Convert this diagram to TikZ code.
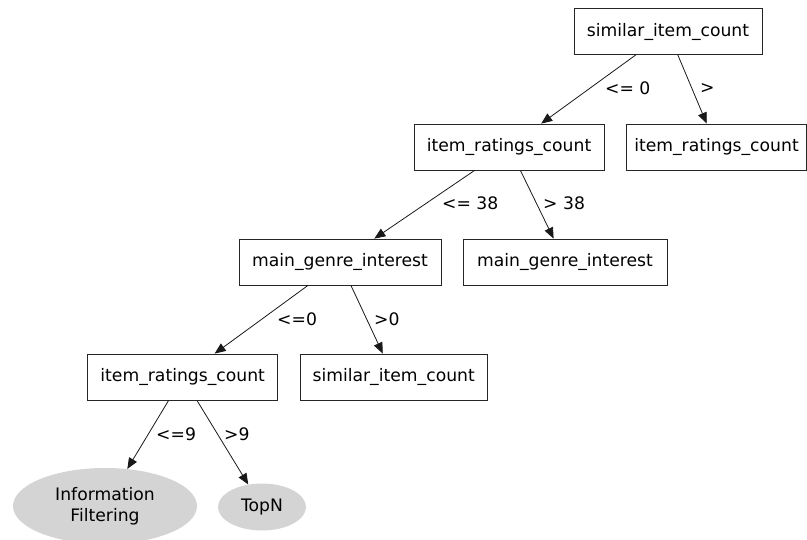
\documentclass[tikz,border=0pt]{standalone}
\usepackage{fontspec}
\setmainfont{DejaVu Sans}
\usetikzlibrary{arrows.meta,shapes.geometric}
\tikzset{
  test/.style={draw=black!85, line width=0.8pt, rectangle, minimum height=46pt,
    inner sep=0pt, font=\fontsize{17.2}{19}\selectfont},
  leaf/.style={ellipse, fill=black!17, draw=none, inner sep=0pt,
    font=\fontsize{17.2}{21.5}\selectfont, align=center},
  branch/.style={anchor=west, inner sep=0pt, font=\fontsize{17.2}{19}\selectfont},
  edge/.style={draw=black!90, line width=0.8pt, -{Triangle[length=11pt,width=9pt]}}
}
\begin{document}
\begin{tikzpicture}[x=1pt,y=-1pt]
\useasboundingbox (0,0) rectangle (807,539);
% decision nodes
\node[test, minimum width=188pt] (root) at (668,31.5) {similar\_item\_count};
\node[test, minimum width=190pt] (irc1) at (509,147) {item\_ratings\_count};
\node[test, minimum width=180pt] (irc2) at (716.5,147) {item\_ratings\_count};
\node[test, minimum width=202pt] (mgi1) at (340,262) {main\_genre\_interest};
\node[test, minimum width=204pt] (mgi2) at (565,262) {main\_genre\_interest};
\node[test, minimum width=190pt] (irc3) at (182.7,377) {item\_ratings\_count};
\node[test, minimum width=187pt] (sic2) at (393.7,377) {similar\_item\_count};
% leaves
\node[leaf, minimum width=184pt, minimum height=76pt] (filt) at (105,506) {Information\\Filtering};
\node[leaf, minimum width=88pt, minimum height=47pt] (topn) at (262,507) {TopN};
% branches
\draw[edge] (root) -- (irc1);
\draw[edge] (root) -- (irc2);
\draw[edge] (irc1) -- (mgi1);
\draw[edge] (irc1) -- (mgi2);
\draw[edge] (mgi1) -- (irc3);
\draw[edge] (mgi1) -- (sic2);
\draw[edge] (irc3) -- (filt);
\draw[edge] (irc3) -- (topn);
% branch labels
\node[branch] (l1) at (605,88) {<= 0};
\node[branch] (l2) at (700,88) {>};
\node[branch] (l3) at (442,203) {<= 38};
\node[branch] (l4) at (543,203) {> 38};
\node[branch] (l5) at (277,319) {<=0};
\node[branch] (l6) at (374,319) {>0};
\node[branch] (l7) at (156,434) {<=9};
\node[branch] (l8) at (224,434) {>9};
\end{tikzpicture}
\end{document}
